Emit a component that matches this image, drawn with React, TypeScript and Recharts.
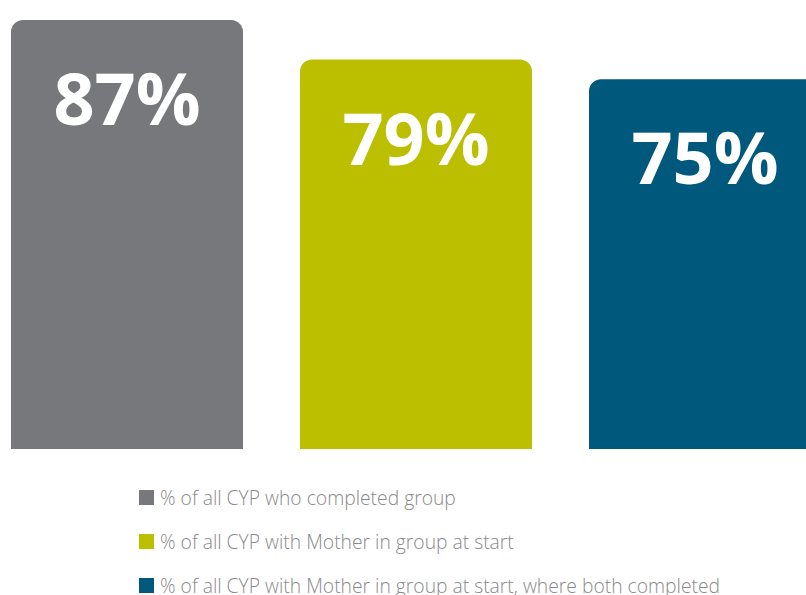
import { BarChart, Bar, XAxis, YAxis, Cell, LabelList } from "recharts";

const categories = [
  "% of all CYP who completed group",
  "% of all CYP with Mother in group at start",
  "% of all CYP with Mother in group at start, where both completed",
];
const values = [87, 79, 75];
const colors = ["#77787b", "#bcbf00", "#00587c"];

const data = categories.map((name, i) => ({ name, value: values[i] }));

// top-of-bar percentage, sits ~105px under the bar top
function BigLabel(props: any) {
  const { x, y, width, value } = props;
  return (
    <text
      x={x + width / 2}
      y={y + 105}
      textAnchor="middle"
      fill="#fff"
      fontFamily="'Open Sans', sans-serif"
      fontWeight={700}
      fontSize={72}
    >
      {value}%
    </text>
  );
}

function KeyList() {
  return (
    <div style={{ fontFamily: "'Open Sans', sans-serif", fontWeight: 300, fontSize: 19.3, color: "#8a8a8a" }}>
      {categories.map((c, i) => (
        <div key={c} style={{ display: "flex", alignItems: "center", height: 44, whiteSpace: "nowrap" }}>
          <span style={{ width: 15, height: 15, background: colors[i], marginRight: 6, display: "inline-block" }} />
          {c}
        </div>
      ))}
    </div>
  );
}

export default function App() {
  return (
    <div style={{ position: "fixed", left: 0, top: 0, width: 806, height: 595, overflow: "hidden", background: "#fff" }}>
      <div style={{ position: "absolute", left: -18, top: -44 }}>
        <BarChart width={867} height={639} data={data} margin={{ top: 0, right: 0, bottom: 146, left: 0 }} barSize={232}>
          <XAxis dataKey="name" hide />
          <YAxis domain={[0, 100]} hide />
          <Bar dataKey="value" radius={[12, 12, 0, 0]} isAnimationActive={false}>
            {data.map((d, i) => (
              <Cell key={d.name} fill={colors[i]} />
            ))}
            <LabelList dataKey="value" content={BigLabel} />
          </Bar>
        </BarChart>
      </div>
      <div style={{ position: "absolute", left: 139, top: 475 }}>
        <KeyList />
      </div>
    </div>
  );
}
